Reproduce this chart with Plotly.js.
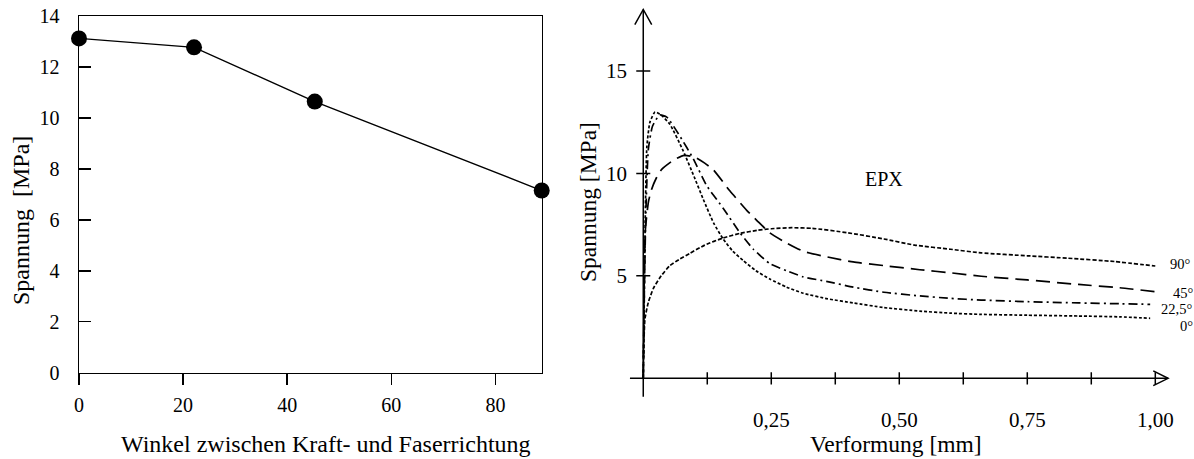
<!DOCTYPE html>
<html>
<head>
<meta charset="utf-8">
<script src="https://cdn.plot.ly/plotly-3.0.1.min.js"></script>
<style>html,body{margin:0;padding:0;background:#fff;}#chart{width:1194px;height:459px;}</style>
</head>
<body>
<div id="chart"></div>
<script>
// ---- Left chart data ----
const angleDeg = [0, 22.1, 45.3, 88.9];
const strengthMPa = [13.12, 12.77, 10.64, 7.15];
const leftXTicks = [0, 20, 40, 60, 80];
const leftYTicks = [0, 2, 4, 6, 8, 10, 12, 14];

// ---- Right chart data (Verformung [mm] vs Spannung [MPa]) ----
const x0deg = [0, 0.002, 0.004, 0.007, 0.013, 0.023, 0.035, 0.052, 0.078, 0.1, 0.117, 0.137, 0.156, 0.175, 0.195, 0.22, 0.247, 0.28, 0.3125, 0.36, 0.41, 0.47, 0.54, 0.6, 0.66, 0.75, 0.85, 0.93, 0.99];
const y0deg = [0, 4, 8, 11.3, 12.5, 13.0, 12.85, 12.4, 11.1, 9.8, 8.75, 7.6, 6.8, 6.2, 5.75, 5.25, 4.85, 4.45, 4.15, 3.88, 3.68, 3.45, 3.28, 3.18, 3.12, 3.08, 3.04, 3.0, 2.93];

const x22deg = [0, 0.002, 0.005, 0.01, 0.018, 0.032, 0.046, 0.072, 0.098, 0.124, 0.156, 0.189, 0.215, 0.247, 0.28, 0.3125, 0.36, 0.41, 0.47, 0.54, 0.6, 0.66, 0.75, 0.85, 0.93, 0.99];
const y22deg = [0, 4, 8, 11.2, 12.3, 12.85, 12.75, 11.8, 10.7, 9.4, 8.3, 7.1, 6.3, 5.6, 5.25, 4.95, 4.72, 4.45, 4.2, 4.02, 3.9, 3.82, 3.74, 3.68, 3.64, 3.61];

const x45deg = [0, 0.002, 0.004, 0.01, 0.016, 0.026, 0.036, 0.059, 0.08, 0.1, 0.12, 0.137, 0.169, 0.202, 0.222, 0.247, 0.273, 0.3125, 0.36, 0.41, 0.47, 0.54, 0.6, 0.66, 0.75, 0.85, 0.93, 1.0];
const y45deg = [0, 5, 7.2, 8.6, 9.2, 9.8, 10.2, 10.65, 10.88, 10.8, 10.5, 10.17, 9.15, 8.2, 7.7, 7.1, 6.7, 6.2, 5.92, 5.68, 5.5, 5.3, 5.15, 4.98, 4.8, 4.58, 4.42, 4.23];

const x90deg = [0, 0.001, 0.0033, 0.0098, 0.02, 0.035, 0.052, 0.07, 0.091, 0.12, 0.156, 0.19, 0.222, 0.25, 0.29, 0.33, 0.4, 0.47, 0.53, 0.6, 0.66, 0.75, 0.83, 0.92, 1.0];
const y90deg = [0, 1.5, 2.9, 3.7, 4.4, 5.0, 5.5, 5.8, 6.1, 6.5, 6.85, 7.08, 7.22, 7.3, 7.35, 7.32, 7.1, 6.8, 6.5, 6.3, 6.12, 5.98, 5.86, 5.7, 5.48];

const rightXTickMarks = [0.125, 0.25, 0.375, 0.5, 0.625, 0.75, 0.875, 1.0];
const rightXLabelVals = [0.25, 0.5, 0.75, 1.0];
const rightXLabels = ['0,25', '0,50', '0,75', '1,00'];
const rightYTicks = [5, 10, 15];
const curveLabels = ['90°', '45°', '22,5°', '0°'];

// ---- layout helpers ----
const W = 1194, H = 459;
const FONT = 'Liberation Serif, Times New Roman, serif';
const px = v => v / W;
const py = v => 1 - v / H;

const curveLine = dash => ({color: '#000', width: 1.7, dash: dash, shape: 'spline', smoothing: 0.5});
const traces = [
  {x: angleDeg, y: strengthMPa, xaxis: 'x', yaxis: 'y', mode: 'lines+markers',
   line: {color: '#000', width: 1.4}, marker: {color: '#000', size: 16}, cliponaxis: false, hoverinfo: 'skip'},
  {x: x0deg, y: y0deg, xaxis: 'x2', yaxis: 'y2', mode: 'lines', line: curveLine('3px,2px'), hoverinfo: 'skip'},
  {x: x22deg, y: y22deg, xaxis: 'x2', yaxis: 'y2', mode: 'lines', line: curveLine('9px,4px,2px,4px'), hoverinfo: 'skip'},
  {x: x45deg, y: y45deg, xaxis: 'x2', yaxis: 'y2', mode: 'lines', line: curveLine('14px,7px'), hoverinfo: 'skip'},
  {x: x90deg, y: y90deg, xaxis: 'x2', yaxis: 'y2', mode: 'lines', line: curveLine('4px,2px'), hoverinfo: 'skip'}
];

const lineStyle = {color: '#000', width: 1.5};
const shapes = [];
// right axes lines
shapes.push({type: 'line', xref: 'x2', yref: 'y2', x0: -0.026, x1: 1.025, y0: 0, y1: 0, line: lineStyle});
shapes.push({type: 'line', xref: 'x2', yref: 'y2', x0: 0, x1: 0, y0: -0.9, y1: 18, line: lineStyle});
// arrow heads
shapes.push({type: 'path', xref: 'x2', yref: 'y2', path: 'M 0.996 0.36 L 1.025 0 L 0.996 -0.36', line: lineStyle});
shapes.push({type: 'path', xref: 'x2', yref: 'y2', path: 'M -0.0165 17.26 L 0 18 L 0.0165 17.26', line: lineStyle});
// tick marks
rightXTickMarks.forEach(v => shapes.push({type: 'line', xref: 'x2', yref: 'y2', x0: v, x1: v, y0: -0.3, y1: 0.3, line: lineStyle}));
rightYTicks.forEach(v => shapes.push({type: 'line', xref: 'x2', yref: 'y2', x0: -0.0137, x1: 0.0137, y0: v, y1: v, line: lineStyle}));

const labelPos = [[1180.7, 264.3], [1183.3, 292.7], [1176.7, 309.3], [1186, 326]];
const annotations = [
  {text: 'Spannung\u00a0\u00a0[MPa]', xref: 'paper', yref: 'paper', x: px(21), y: py(221), textangle: -90, showarrow: false, xanchor: 'center', yanchor: 'middle', font: {family: FONT, size: 24, color: '#000'}},
  {text: 'Winkel zwischen Kraft- und Faserrichtung', xref: 'paper', yref: 'paper', x: px(326), y: 0, showarrow: false, xanchor: 'center', yanchor: 'bottom', font: {family: FONT, size: 24, color: '#000'}},
  {text: 'Spannung [MPa]', xref: 'paper', yref: 'paper', x: px(587.5), y: py(202.5), textangle: -90, showarrow: false, xanchor: 'center', yanchor: 'middle', font: {family: FONT, size: 23.5, color: '#000'}},
  {text: 'Verformung [mm]', xref: 'paper', yref: 'paper', x: px(896), y: 0, showarrow: false, xanchor: 'center', yanchor: 'bottom', font: {family: FONT, size: 23.5, color: '#000'}},
  {text: 'EPX', xref: 'paper', yref: 'paper', x: px(884), y: py(179), showarrow: false, xanchor: 'center', yanchor: 'middle', font: {family: FONT, size: 20, color: '#000'}}
];
curveLabels.forEach((t, i) => annotations.push({text: t, xref: 'paper', yref: 'paper', x: px(labelPos[i][0]), y: py(labelPos[i][1]), showarrow: false, xanchor: 'center', yanchor: 'middle', font: {family: FONT, size: 14.5, color: '#000'}}));

const layout = {
  width: W, height: H,
  margin: {l: 0, r: 0, t: 0, b: 0},
  paper_bgcolor: '#fff', plot_bgcolor: 'rgba(0,0,0,0)',
  showlegend: false,
  font: {family: FONT, color: '#000'},
  xaxis: {domain: [px(79), px(541.7)], range: [0, 88.9], anchor: 'y', tickvals: leftXTicks,
          ticks: 'outside', ticklen: 11, tickwidth: 1.5, tickcolor: '#000',
          showline: true, mirror: true, linecolor: '#000', linewidth: 1.5,
          showgrid: false, zeroline: false, tickfont: {family: FONT, size: 20, color: '#000'}, ticklabelstandoff: 3},
  yaxis: {domain: [py(372.7), py(16)], range: [0, 14], anchor: 'x', tickvals: leftYTicks,
          ticks: 'inside', ticklen: 12, tickwidth: 1.5, tickcolor: '#000',
          showline: true, mirror: true, linecolor: '#000', linewidth: 1.5,
          showgrid: false, zeroline: false, tickfont: {family: FONT, size: 20, color: '#000'}, ticklabelstandoff: 14},
  xaxis2: {domain: [px(627.9), px(1180.9)], range: [-0.03, 1.05], anchor: 'y2', tickvals: rightXLabelVals, ticktext: rightXLabels,
           ticks: '', showline: false, showgrid: false, zeroline: false,
           tickfont: {family: FONT, size: 21, color: '#000'}, ticklabelstandoff: 6},
  yaxis2: {domain: [py(398.8), py(5.4)], range: [-1, 18.2], anchor: 'x2', tickvals: rightYTicks,
           ticks: '', showline: false, showgrid: false, zeroline: false,
           tickfont: {family: FONT, size: 21, color: '#000'}, ticklabelstandoff: 0},
  shapes: shapes,
  annotations: annotations
};

Plotly.newPlot('chart', traces, layout, {staticPlot: true, displayModeBar: false});
</script>
</body>
</html>
